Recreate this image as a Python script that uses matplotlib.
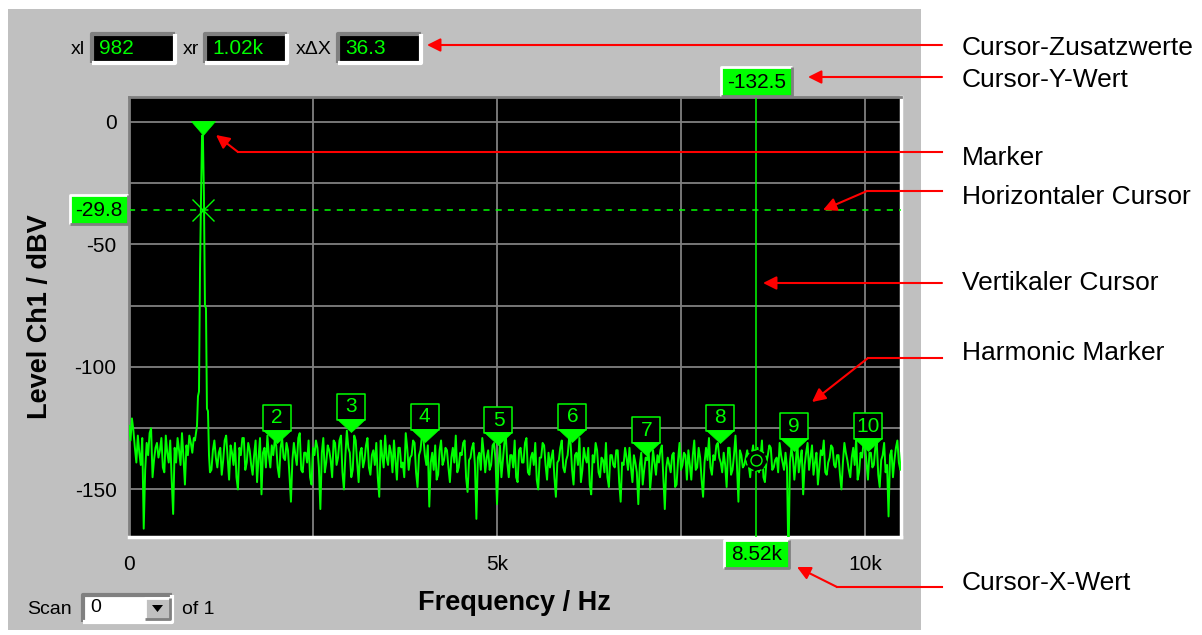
import numpy as np
import matplotlib
matplotlib.use("Agg")
import matplotlib.pyplot as plt
from matplotlib.patches import Rectangle, Polygon
from matplotlib.path import Path

plt.rcParams['font.family'] = ['Liberation Sans', 'DejaVu Sans']

# ---------------- data ----------------
# noise floor, bins at 0, 40, 80, ... Hz
noise_step_hz = 40
noise_levels = [
    -124, -121, -133, -128, -140, -166, -131, -127, -145, -133,
    -137, -129, -143, -135, -130, -160, -139, -134, -127, -148,
    -136, -131, -129, -127, -125, -128, -130, -135, -142, -130,
    -141, -133, -138, -128, -146, -135, -131, -150, -136, -129,
    -139, -134, -144, -130, -137, -152, -133, -128, -141, -136,
    -132, -145, -129, -138, -134, -155, -131, -140, -127, -143,
    -135, -130, -148, -136, -133, -158, -129, -139, -134, -145,
    -131, -137, -128, -150, -126, -135, -142, -130, -147, -133,
    -138, -129, -144, -134, -131, -153, -136, -128, -140, -135,
    -130, -146, -133, -139, -127, -142, -136, -131, -149, -134,
    -129, -140, -157, -135, -132, -144, -130, -138, -134, -147,
    -133, -128, -141, -136, -130, -151, -137, -131, -162, -135,
    -129, -143, -134, -140, -131, -156, -132, -138, -128, -145,
    -136, -130, -147, -133, -139, -129, -144, -135, -131, -150,
    -137, -132, -146, -141, -134, -153, -138, -130, -143, -136,
    -131, -148, -135, -129, -142, -137, -133, -152, -139, -134,
    -145, -138, -131, -149, -136, -141, -134, -155, -140, -137,
    -133, -147, -139, -156, -135, -142, -138, -150, -134, -144,
    -139, -132, -158, -137, -143, -135, -148, -131, -140, -136,
    -134, -146, -130, -141, -137, -153, -133, -129, -144, -138,
    -131, -139, -135, -149, -133, -142, -128, -155, -136, -140,
    -134, -145, -132, -138, -143, -130, -147, -136, -133, -141,
    -137, -131, -139, -135, -180, -133, -146, -130, -138, -152,
    -135, -142, -132, -139, -148, -134, -130, -144, -137, -133,
    -141, -136, -150, -131, -138, -145, -133, -129, -143, -137,
    -132, -146, -135, -140, -131, -149, -136, -143, -161, -134,
    -138, -130, -142,
]
# noise floor, bins at 20, 60, 100, ... Hz
noise_offset_hz = 20
noise_levels_b = [
    -130, -126, -139, -135, -129, -142, -136, -125, -138, -131,
    -134, -141, -128, -139, -146, -133, -129, -140, -137, -132,
    -128, -135, -126, -124, -122, -126, -131, -143, -134, -137,
    -135, -144, -130, -137, -132, -140, -145, -133, -129, -142,
    -131, -140, -136, -147, -129, -135, -141, -136, -132, -130,
    -141, -133, -137, -131, -144, -138, -136, -129, -142, -135,
    -139, -145, -133, -130, -141, -135, -143, -132, -138, -130,
    -140, -130, -143, -136, -133, -145, -128, -139, -135, -141,
    -132, -141, -136, -140, -145, -130, -141, -137, -132, -143,
    -138, -133, -141, -145, -133, -137, -130, -143, -136, -128,
    -136, -132, -139, -142, -146, -134, -140, -133, -141, -137,
    -139, -143, -135, -131, -145, -138, -133, -140, -137, -142,
    -135, -137, -142, -132, -138, -140, -145, -131, -139, -136,
    -141, -145, -134, -139, -131, -143, -137, -140, -146, -137,
    -131, -140, -135, -137, -145, -139, -133, -141, -138, -129,
    -142, -136, -140, -147, -133, -139, -148, -136, -131, -143,
    -137, -143, -145, -136, -140, -134, -147, -139, -133, -142,
    -141, -136, -143, -140, -148, -137, -133, -143, -139, -136,
    -134, -145, -141, -140, -136, -149, -138, -142, -135, -146,
    -140, -136, -142, -133, -146, -139, -138, -141, -136, -132,
    -137, -143, -140, -133, -144, -136, -140, -134, -141, -137,
    -140, -136, -141, -133, -137, -145, -139, -132, -142, -138,
    -143, -136, -142, -141, -139, -137, -139, -143, -134, -140,
    -131, -137, -144, -135, -141, -136, -143, -139, -132, -140,
    -136, -144, -139, -135, -142, -137, -140, -146, -135, -131,
    -139, -135, -141, -133, -144, -138, -131, -140, -136, -145,
    -133, -139, -135,
]
peak_freqs = [896, 910, 924, 937, 951, 965, 979, 992, 1004, 1018, 1032, 1046, 1059, 1073, 1087]
peak_levels = [-130, -127, -124, -112, -110, -60, -30, -5.5, -5.5, -30, -75, -76, -117, -118, -136]

fundamental_hz = 1004
fundamental_level = -5.5

harmonic_numbers = [2, 3, 4, 5, 6, 7, 8, 9, 10]
harmonic_freqs = [2008, 3012, 4016, 5020, 6024, 7028, 8032, 9036, 10040]
harmonic_levels = [-131, -126.5, -130.5, -132, -130.5, -136, -131, -134.5, -134.5]

vcursor_hz = 8520
vcursor_point_db = -138
vcursor_x_text = "8.52k"
vcursor_y_text = "-132.5"
hcursor_db = -36
hcursor_text = "-29.8"

readout_names = ["xl", "xr", "x\u0394X"]
readout_values = ["982", "1.02k", "36.3"]

x_tick_vals = [0, 5000, 10000]
x_tick_text = ["0", "5k", "10k"]
y_tick_vals = [0, -50, -100, -150]
y_tick_text = ["0", "-50", "-100", "-150"]

callout_texts = ["Cursor-Zusatzwerte", "Cursor-Y-Wert", "Marker", "Horizontaler Cursor",
                 "Vertikaler Cursor", "Harmonic Marker", "Cursor-X-Wert"]

# ---------------- figure ----------------
W, H = 1202, 635
DPI = 100
GREEN = '#00ff00'
PANEL = '#c0c0c0'
DARK = '#808080'

fig = plt.figure(figsize=(W / DPI, H / DPI), dpi=DPI, facecolor='white')

bg = fig.add_axes([0, 0, 1, 1], zorder=0)
bg.set_xlim(0, W); bg.set_ylim(H, 0); bg.axis('off'); bg.set_facecolor('none')
bg.add_patch(Rectangle((8, 9), 913, 621, facecolor=PANEL, edgecolor='none'))

L, R, T, B = 129, 901, 97, 537
ax = fig.add_axes([L / W, (H - B) / H, (R - L) / W, (B - T) / H], zorder=1)
ax.set_facecolor('black')
ax.set_xlim(0, (R - L) / 0.0736)
ax.set_ylim(-169.4, 10.2)

ax.set_xticks(x_tick_vals)
ax.set_xticklabels(x_tick_text)
ax.set_xticks([2500, 7500], minor=True)
ax.set_yticks(y_tick_vals)
ax.set_yticklabels(y_tick_text)
ax.set_yticks([-25, -75, -125], minor=True)
ax.tick_params(which='both', length=0)
ax.tick_params(axis='x', pad=13, labelsize=15, colors='black')
ax.tick_params(axis='y', pad=9, labelsize=15, colors='black')
ax.grid(True, which='both', color=DARK, lw=1.3)
ax.set_axisbelow(True)
for s in ['left', 'top']:
    ax.spines[s].set_color(DARK); ax.spines[s].set_linewidth(2)
for s in ['right', 'bottom']:
    ax.spines[s].set_color('white'); ax.spines[s].set_linewidth(2.5)

ax.set_xlabel('Frequency / Hz', fontsize=19.5, fontweight='bold')
ax.xaxis.set_label_coords((514 - L) / (R - L), -(603 - B) / (B - T))
ax.xaxis.label.set_verticalalignment('center')
ax.set_ylabel('Level Ch1 / dBV', fontsize=19.5, fontweight='bold')
ax.yaxis.set_label_coords((40 - L) / (R - L), 0.5)
ax.yaxis.label.set_verticalalignment('center')

# trace
nf_a = np.arange(len(noise_levels)) * noise_step_hz
nf_b = np.arange(len(noise_levels_b)) * noise_step_hz + noise_offset_hz
nf = np.concatenate([nf_a, nf_b])
nl = np.concatenate([np.array(noise_levels, float), np.array(noise_levels_b, float)])
keep = (nf < 890) | (nf > 1095)
f_all = np.concatenate([nf[keep], peak_freqs])
l_all = np.concatenate([nl[keep], peak_levels])
order = np.argsort(f_all)
ax.plot(f_all[order], l_all[order], color=GREEN, lw=1.4, zorder=3)

# cursors
ax.axvline(vcursor_hz, color=GREEN, lw=1.1, zorder=4)
ax.axhline(hcursor_db, color=GREEN, lw=1.1, ls=(0, (4, 4)), zorder=4)

PX2PT = 72.0 / DPI


def path_marker(verts, codes=None):
    p = Path(verts, codes)
    maxabs = np.max(np.abs(np.asarray(verts)))
    return p, 2 * maxabs * PX2PT


# harmonic markers
box_p, box_ms = path_marker([(-14, 12), (14, 12), (14, 38), (-14, 38), (-14, 12)],
                            [Path.MOVETO, Path.LINETO, Path.LINETO, Path.LINETO, Path.CLOSEPOLY])
tri_p, tri_ms = path_marker([(-14, 13), (14, 13), (0, 0), (-14, 13)],
                            [Path.MOVETO, Path.LINETO, Path.LINETO, Path.CLOSEPOLY])
for n, f, lv in zip(harmonic_numbers, harmonic_freqs, harmonic_levels):
    ax.plot([f], [lv], marker=box_p, ms=box_ms, mfc='black', mec=GREEN, mew=1.1, zorder=5)
    ax.plot([f], [lv], marker=tri_p, ms=tri_ms, mfc=GREEN, mec=GREEN, mew=0.5, zorder=5)
    ax.annotate(str(n), xy=(f, lv), xytext=(0, 25), textcoords='offset pixels',
                ha='center', va='center', color=GREEN, fontsize=15, zorder=6)

# fundamental marker
fm_p, fm_ms = path_marker([(-12, 14), (12, 14), (0, 0), (-12, 14)],
                          [Path.MOVETO, Path.LINETO, Path.LINETO, Path.CLOSEPOLY])
ax.plot([fundamental_hz], [fundamental_level], marker=fm_p, ms=fm_ms, mfc=GREEN, mec=GREEN,
        mew=0.5, zorder=6)
# cross at horizontal cursor
ax.plot([fundamental_hz], [hcursor_db], marker='x', ms=23 * PX2PT, mec=GREEN, mew=1.0, zorder=6)

# dashed circle at cursor point
verts, codes = [], []
for k in range(8):
    a = np.deg2rad(np.linspace(k * 45, k * 45 + 28, 6))
    for j, aa in enumerate(a):
        verts.append((np.cos(aa), np.sin(aa)))
        codes.append(Path.MOVETO if j == 0 else Path.LINETO)
dc_path = Path(verts, codes)
ax.plot([vcursor_hz], [vcursor_point_db], marker='o', ms=21 * PX2PT, mfc='black',
        mec='none', zorder=5.5)
ax.plot([vcursor_hz], [vcursor_point_db], marker=dc_path, ms=21 * PX2PT, mfc='none',
        mec=GREEN, mew=1.0, zorder=6)
ax.plot([vcursor_hz], [vcursor_point_db], marker='o', ms=11 * PX2PT, mfc='none',
        mec=GREEN, mew=1.0, zorder=6)

# ---------------- foreground (UI chrome & callouts) ----------------
fg = fig.add_axes([0, 0, 1, 1], zorder=2)
fg.set_xlim(0, W); fg.set_ylim(H, 0); fg.axis('off'); fg.set_facecolor('none')


def to_px(f, db):
    x, y = ax.transData.transform((f, db))
    return x, H - y


def bevel_box(x0, y0, x1, y1, fill, raised=True, lw=2.0):
    fg.add_patch(Rectangle((x0, y0), x1 - x0, y1 - y0, facecolor=fill, edgecolor='none', zorder=3))
    tl = 'white' if raised else DARK
    br = DARK if raised else 'white'
    fg.plot([x0, x0, x1], [y1, y0, y0], color=tl, lw=lw, solid_capstyle='butt', zorder=4)
    fg.plot([x0, x1, x1], [y1, y1, y0], color=br, lw=lw, solid_capstyle='butt', zorder=4)


# readout boxes at top
rb = [(92, 175), (205, 287), (338, 421)]
lbl_x = [78, 191, 314]
for (x0, x1), nm, val, lx in zip(rb, readout_names, readout_values, lbl_x):
    bevel_box(x0, 34, x1, 63, 'black', raised=False, lw=3)
    fg.text(x0 + 7, 49, val, color=GREEN, fontsize=15, ha='left', va='center', zorder=5)
    fg.text(lx, 49, nm, color='black', fontsize=14, ha='center', va='center', zorder=5)

# cursor value boxes
cx, _ = to_px(vcursor_hz, 0)
bevel_box(cx - 35, 67, cx + 36, 96, GREEN, raised=True)
fg.text(cx + 1, 82, vcursor_y_text, color='black', fontsize=15, ha='center', va='center', zorder=5)
bevel_box(cx - 32, 540, cx + 33, 568, GREEN, raised=True)
fg.text(cx + 1, 554, vcursor_x_text, color='black', fontsize=15, ha='center', va='center', zorder=5)
_, hy = to_px(0, hcursor_db)
bevel_box(70, hy - 15, 128, hy + 14, GREEN, raised=True)
fg.text(99, hy, hcursor_text, color='black', fontsize=15, ha='center', va='center', zorder=5)

# Scan dropdown
fg.text(27, 609, 'Scan', color='black', fontsize=14, ha='left', va='center', zorder=5)
bevel_box(83, 595, 172, 622, 'white', raised=False, lw=3)
fg.text(90, 608, '0', color='black', fontsize=14, ha='left', va='center', zorder=5)
bevel_box(145, 598, 170, 619, PANEL, raised=True)
fg.add_patch(Polygon([(152, 605), (163, 605), (157.5, 612)], closed=True, facecolor='black',
                     edgecolor='none', zorder=6))
fg.text(182, 609, 'of 1', color='black', fontsize=14, ha='left', va='center', zorder=5)

# callouts
text_y = [48, 80, 158, 197, 283, 353, 583]
line_y = [45, 77, 152, 191, 283, 358, 587]
knee_x = [None, None, 238, 867, None, 868, 837]
tips = [(427, 45), (808, 77), (216, 135), (823, 210), (763, 283), (812, 402), (797, 567)]
for txt, ty, ly, kx, tip in zip(callout_texts, text_y, line_y, knee_x, tips):
    fg.text(962, ty, txt, color='black', fontsize=19, ha='left', va='center', zorder=7)
    start = (942, ly)
    if kx is None:
        knee = start
    else:
        knee = (kx, ly)
        fg.plot([start[0], knee[0]], [ly, ly], color='red', lw=1.5, zorder=7)
    fg.annotate('', xy=tip, xytext=knee,
                arrowprops=dict(arrowstyle='-|>', color='red', lw=1.5, mutation_scale=20,
                                shrinkA=0, shrinkB=0), zorder=7)

fig.savefig('out.png', dpi=DPI, facecolor='white')
